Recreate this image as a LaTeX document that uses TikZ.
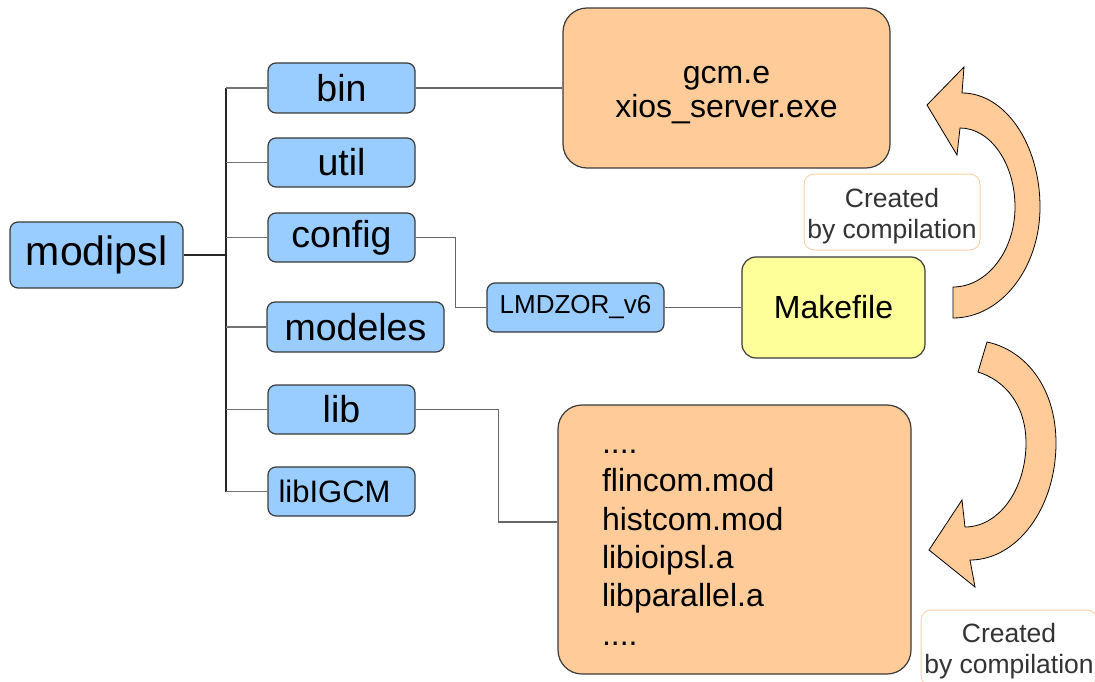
\documentclass[tikz,border=0pt]{standalone}
\usepackage{fontspec}
\setmainfont{Liberation Sans}
\definecolor{dirblue}{HTML}{99CCFF}
\definecolor{peach}{HTML}{FFCC99}
\definecolor{lemon}{HTML}{FFFF99}
\definecolor{edge}{HTML}{3A3A3A}
\definecolor{labeltext}{HTML}{333333}
\definecolor{labelrim}{HTML}{FFD2AA}
\newcommand{\fs}[2]{\fontsize{#1}{#2}\selectfont}
% a block of lines whose centre sits #1 below the node centre
\newcommand{\lowblock}[3]{\parbox{#2}{\vspace*{#1}#3}}
\begin{document}
\begin{tikzpicture}[x=1pt,y=-1pt,
  dirbox/.style={draw=edge, line width=1.2pt, fill=dirblue, rounded corners=8pt,
    inner sep=0pt, align=center},
  filebox/.style={draw=edge, line width=1.2pt, fill=peach, rounded corners=24pt,
    inner sep=0pt},
  makebox/.style={draw=edge, line width=1.2pt, fill=lemon, rounded corners=14pt,
    inner sep=0pt},
  notebox/.style={draw=labelrim, line width=1pt, fill=white, rounded corners=10pt,
    inner sep=0pt, text=labeltext, font=\fs{26.5}{31}},
  trunkline/.style={draw=black!85, line width=1.3pt},
  branchline/.style={draw=black!55, line width=1.2pt},
  link/.style={draw=black!60, line width=1.2pt},
  bigarrow/.style={fill=peach, draw=black, line width=0.8pt, line join=miter}
]
\useasboundingbox (0,0) rectangle (1095,682);

% directory tree
\node[dirbox, minimum width=173pt, minimum height=66pt, font=\fs{41}{48}] (modipsl) at (96.5,255) {modipsl};
\node[dirbox, minimum width=147pt, minimum height=50pt, font=\fs{37.5}{42}] (bin) at (341.5,88) {bin};
\node[dirbox, minimum width=147pt, minimum height=49pt, font=\fs{37.5}{42}] (util) at (341.5,162.5) {util};
\node[dirbox, minimum width=147pt, minimum height=49pt, font=\fs{37.5}{42}] (config) at (341.5,237.5) {config};
\node[dirbox, minimum width=177pt, minimum height=50pt, font=\fs{37.5}{42}] (modeles) at (355.5,327) {modeles};
\node[dirbox, minimum width=147pt, minimum height=49pt, font=\fs{37.5}{42}] (lib) at (341.5,409.5) {lib};
\node[dirbox, minimum width=147pt, minimum height=49pt, font=\fs{31}{36}] (libigcm) at (341.5,491.5) {\hspace*{-14pt}libIGCM};
\node[dirbox, minimum width=177pt, minimum height=49pt, font=\fs{26}{30}] (lmdz) at (575.5,307.5) {LMDZOR\_v6};

% build products and makefile
\node[filebox, minimum width=327pt, minimum height=160pt, font=\fs{32}{34}] (exe) at (726.5,88)
  {\lowblock{14pt}{300pt}{\centering gcm.e\\xios\_server.exe}};
\node[makebox, minimum width=183pt, minimum height=101pt, font=\fs{32}{38}] (make) at (833.5,307.5) {Makefile};
\node[filebox, minimum width=353pt, minimum height=269pt, inner xsep=44pt, font=\fs{32}{38.4}] (mods) at (734.5,539.5)
  {\lowblock{16pt}{265pt}{\raggedright ....\\flincom.mod\\histcom.mod\\libioipsl.a\\libparallel.a\\....}};

% notes
\node[notebox, minimum width=176pt, minimum height=76pt] (note1) at (892,212)
  {\lowblock{8pt}{170pt}{\centering Created\\by compilation}};
\node[notebox, minimum width=176pt, minimum height=76pt] (note2) at (1009,648)
  {\lowblock{6pt}{170pt}{\centering Created\\by compilation}};

% tree connectors
\coordinate (trunk) at (226,0);
\draw[trunkline] (trunk |- bin.west) -- (trunk |- libigcm.west);
\draw[trunkline] (modipsl.east) -- (modipsl.east -| trunk);
\foreach \n in {bin,util,config,modeles,lib,libigcm}
  \draw[branchline] (trunk |- \n.west) -- (\n.west);

% other connectors
\draw[link] (bin.east) -- (exe.west);
\draw[link] (config.east) -- ++(40,0) |- (lmdz.west);
\draw[link] (lmdz.east) -- (make.west);
\draw[link] (lib.east) -- ++(83,0) |- ([yshift=17.5pt]mods.west);

% curved arrow: makefile up to executables
\path[bigarrow] (953,318)
  .. controls (1001,318) and (1040,268) .. (1040,207)
  .. controls (1040,144) and (1005,93) .. (962,93)
  -- (964,67) -- (927,105) -- (957,155) -- (960,128)
  .. controls (990,128) and (1015,163) .. (1015,207)
  .. controls (1015,251) and (987,287) .. (953,287)
  -- cycle;

% curved arrow: makefile down to libraries
\path[bigarrow] (987,342)
  .. controls (1025,350) and (1056,387) .. (1056,443)
  .. controls (1056,508) and (1017,560) .. (970,560)
  -- (975,587) -- (929,550) -- (962,500) -- (965,527)
  .. controls (999,527) and (1026,489) .. (1026,443)
  .. controls (1026,404) and (1004,380) .. (978,372)
  -- cycle;
\end{tikzpicture}
\end{document}
